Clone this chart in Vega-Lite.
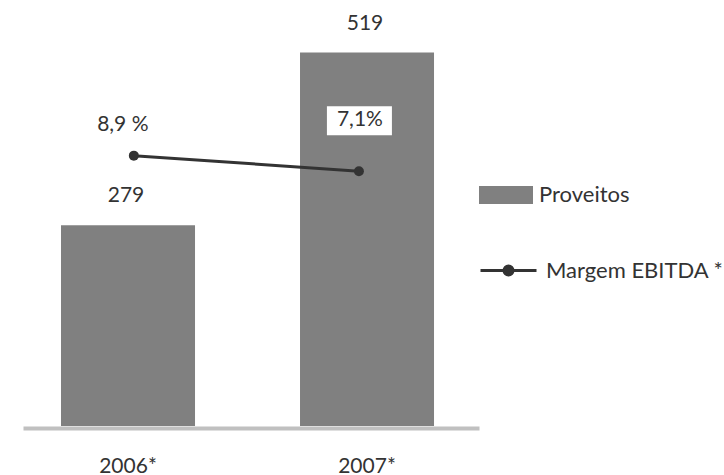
{
  "$schema": "https://vega.github.io/schema/vega-lite/v6.json",
  "width": 701,
  "height": 426,
  "autosize": {"type": "none"},
  "padding": {"left": 23, "top": 0, "right": 0, "bottom": 49},
  "config": {
    "view": {"stroke": null},
    "font": "Lato",
    "text": {"font": "Lato", "fontSize": 21, "color": "#333333"},
    "axis": {"labelFont": "Lato"},
    "legend": {"labelFont": "Lato"}
  },
  "data": {
    "values": [
      {"ano": "2006*", "proveitos": 279, "margem": 8.9, "lbl": "8,9 %"},
      {"ano": "2007*", "proveitos": 519, "margem": 7.1, "lbl": "7,1%"}
    ]
  },
  "resolve": {"scale": {"x": "independent", "y": "independent"}},
  "layer": [
    {
      "encoding": {
        "x": {
          "field": "ano", "type": "nominal",
          "scale": {"range": [0, 456], "paddingInner": 0.4393, "paddingOuter": 0.1736, "align": 0.458},
          "axis": {"title": null, "domainColor": "#c0c0c0", "domainWidth": 4, "offset": 2, "ticks": false,
                   "labelFontSize": 21, "labelColor": "#333333", "labelPadding": 27, "labelAngle": 0,
                   "labelBaseline": "top"}
        },
        "y": {"field": "proveitos", "type": "quantitative", "scale": {"domain": [0, 592]}, "axis": null}
      },
      "layer": [
        {
          "mark": {"type": "bar", "color": "#808080"},
          "encoding": {
            "fill": {
              "datum": "Proveitos", "type": "nominal",
              "scale": {"range": ["#808080"]},
              "legend": {"title": null, "orient": "none", "legendX": 456, "legendY": 168, "padding": 0,
                         "symbolType": "M-1,-0.333H1V0.333H-1Z", "symbolSize": 2916, "symbolStrokeWidth": 0,
                         "symbolOpacity": 1, "labelFontSize": 22, "labelColor": "#333333", "labelOffset": 6,
                         "labelLimit": 300}
            }
          }
        },
        {
          "mark": {"type": "text", "dy": -29, "dx": -2, "baseline": "middle", "fontSize": 21, "color": "#333333"},
          "encoding": {"text": {"field": "proveitos", "type": "quantitative"}}
        }
      ]
    },
    {
      "encoding": {
        "x": {
          "field": "ano", "type": "nominal",
          "scale": {"type": "point", "range": [0, 456], "padding": 0.513, "align": 0.48},
          "axis": null
        },
        "y": {"field": "margem", "type": "quantitative", "scale": {"domain": [-22.28, 26.85], "zero": false, "nice": false}, "axis": null}
      },
      "layer": [
        {
          "transform": [{"filter": "datum.ano == '2007*'"}],
          "mark": {"type": "point", "shape": "M-1,-0.446H1V0.446H-1Z", "size": 4225, "filled": true,
                   "fill": "#ffffff", "strokeWidth": 0, "opacity": 1, "yOffset": -50.5, "xOffset": 0.5}
        },
        {
          "mark": {"type": "line", "strokeWidth": 3},
          "encoding": {
            "stroke": {
              "datum": "Margem EBITDA *", "type": "nominal",
              "scale": {"range": ["#333333"]},
              "legend": {"title": null, "orient": "none", "legendX": 456, "legendY": 241, "padding": 0,
                         "symbolType": "M-1,0H1M-0.16,0A0.16,0.16 0 1,0 0.16,0A0.16,0.16 0 1,0 -0.16,0Z",
                         "symbolSize": 3136, "symbolStrokeWidth": 3, "symbolFillColor": "#333333",
                         "symbolStrokeColor": "#333333", "labelFontSize": 22, "labelColor": "#333333", "labelOffset": 8,
                         "labelLimit": 300,
                         "encode": {"symbols": {"update": {"fill": {"value": "#333333"}, "stroke": {"value": "#333333"}}}}}
            }
          }
        },
        {
          "mark": {"type": "circle", "size": 100, "color": "#333333", "opacity": 1}
        },
        {
          "transform": [{"filter": "datum.ano == '2006*'"}],
          "mark": {"type": "text", "dy": -30.5, "dx": -11, "baseline": "middle", "fontSize": 21, "color": "#333333"},
          "encoding": {"text": {"field": "lbl", "type": "nominal"}}
        },
        {
          "transform": [{"filter": "datum.ano == '2007*'"}],
          "mark": {"type": "text", "dy": -51, "dx": 1, "baseline": "middle", "fontSize": 21, "color": "#333333"},
          "encoding": {"text": {"field": "lbl", "type": "nominal"}}
        }
      ]
    }
  ]
}
